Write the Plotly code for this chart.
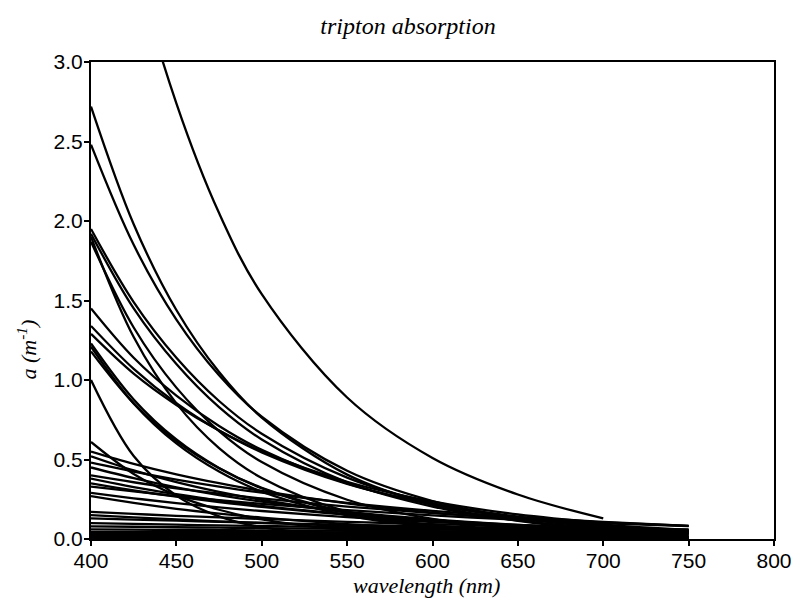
import plotly.graph_objects as go

wavelengths = [400, 425, 450, 475, 500, 550, 600, 650, 700, 750]

# absorption a (m^-1) read at the wavelengths above (None = curve ended)
top_curve = [[4.87, 3.65, 2.74, 2.05, 1.54, 0.89, 0.51, 0.28, 0.13, None]]

group_a = [
    [2.72, 1.98, 1.44, 1.05, 0.764, 0.405, 0.215, 0.114, 0.060, 0.032],
    [2.48, 1.85, 1.38, 1.03, 0.769, 0.429, 0.239, 0.133, 0.074, 0.041],
]

group_b = [
    [1.95, 1.49, 1.14, 0.868, 0.662, 0.386, 0.225, 0.131, 0.076, 0.044],
    [1.92, 1.45, 1.10, 0.829, 0.626, 0.357, 0.204, 0.117, 0.067, 0.038],
    [1.87, 1.33, 0.952, 0.679, 0.484, 0.247, 0.126, 0.064, 0.033, 0.017],
    [1.90, 1.27, 0.853, 0.572, 0.384, 0.172, 0.078, 0.035, 0.016, 0.007],
]

group_c = [
    [1.45, 1.14, 0.902, 0.711, 0.561, 0.349, 0.217, 0.135, 0.084, 0.052],
    [1.34, 1.07, 0.854, 0.682, 0.545, 0.347, 0.221, 0.141, 0.090, 0.057],
    [1.29, 1.04, 0.843, 0.682, 0.551, 0.360, 0.236, 0.154, 0.101, None],
]

group_d = [
    [1.23, 0.878, 0.626, 0.447, 0.319, 0.162, 0.083, 0.042, 0.021, 0.011],
    [1.21, 0.853, 0.601, 0.424, 0.298, 0.148, 0.074, 0.037, 0.018, 0.009],
    [1.18, 0.853, 0.616, 0.445, 0.322, 0.168, 0.088, 0.046, 0.024, 0.0125],
    [1.00, 0.522, 0.273, 0.142, 0.074, 0.020, 0.006, 0.002, 0.001, 0.0],
]

group_low = [
    [0.61, 0.409, 0.274, 0.184, 0.123, 0.055, 0.025, 0.011, 0.005, 0.002],
    [0.55, 0.473, 0.407, 0.351, 0.302, 0.224, 0.166, 0.123, 0.091, None],
    [0.52, 0.431, 0.357, 0.296, 0.246, 0.169, 0.116, 0.080, 0.055, 0.038],
    [0.48, 0.424, 0.374, 0.330, 0.291, 0.227, 0.177, 0.138, 0.107, 0.083],
    [0.45, 0.383, 0.325, 0.276, 0.235, 0.170, 0.123, 0.089, 0.064, 0.046],
    [0.40, 0.357, 0.319, 0.285, 0.255, 0.204, 0.163, 0.130, 0.104, 0.083],
    [0.38, 0.327, 0.282, 0.242, 0.209, 0.155, 0.114, 0.085, 0.063, 0.047],
    [0.35, 0.305, 0.266, 0.232, 0.202, 0.153, 0.117, 0.088, 0.067, 0.051],
    [0.33, 0.299, 0.270, 0.244, 0.221, 0.181, 0.148, 0.121, 0.099, 0.081],
    [0.29, 0.256, 0.226, 0.199, 0.176, 0.137, 0.107, 0.083, 0.065, 0.050],
    [0.27, 0.227, 0.190, 0.160, 0.134, 0.094, 0.067, 0.047, 0.033, None],
]

group_base = [
    [0.17, 0.158, 0.146, 0.136, 0.126, 0.108, 0.093, 0.080, 0.069, 0.060],
    [0.15, 0.136, 0.123, 0.111, 0.101, 0.082, 0.067, 0.055, 0.045, 0.037],
    [0.13, 0.122, 0.115, 0.108, 0.101, 0.089, 0.079, 0.070, 0.061, 0.054],
    [0.10, 0.095, 0.090, 0.086, 0.082, 0.074, 0.067, 0.061, 0.055, 0.050],
    [0.08, 0.077, 0.074, 0.071, 0.069, 0.064, 0.059, 0.055, 0.051, 0.047],
    [0.06, 0.059, 0.057, 0.056, 0.054, 0.052, 0.049, 0.047, 0.044, 0.042],
    [0.045, 0.045, 0.044, 0.043, 0.043, 0.042, 0.041, 0.040, 0.039, 0.038],
    [0.035, 0.035, 0.035, 0.035, 0.034, 0.034, 0.034, 0.034, 0.033, 0.033],
    [0.026, 0.026, 0.025, 0.025, 0.025, 0.025, 0.024, 0.024, 0.024, 0.024],
    [0.016, 0.016, 0.016, 0.016, 0.016, 0.016, 0.016, 0.016, 0.016, 0.016],
    [0.008, 0.008, 0.008, 0.008, 0.008, 0.008, 0.008, 0.008, 0.008, 0.008],
    [0.002, 0.002, 0.002, 0.002, 0.002, 0.002, 0.002, 0.002, 0.002, 0.002],
]

x_ticks = [400, 450, 500, 550, 600, 650, 700, 750, 800]
y_ticks = [0.0, 0.5, 1.0, 1.5, 2.0, 2.5, 3.0]

title_text = "tripton absorption"
x_title = "wavelength (nm)"
y_title = "a (m<sup>-1</sup>)"

all_spectra = top_curve + group_a + group_b + group_c + group_d + group_low + group_base

fig = go.Figure()
for spec in all_spectra:
    fig.add_trace(go.Scatter(
        x=wavelengths, y=spec, mode="lines",
        line=dict(color="black", width=2.3, shape="spline", smoothing=1.0),
        showlegend=False, hoverinfo="skip",
    ))

serif = "Liberation Serif, Times New Roman, serif"
sans = "Liberation Sans, Arial, Helvetica, sans-serif"

fig.update_layout(
    width=804, height=598,
    margin=dict(l=91, r=24, t=62, b=59),
    paper_bgcolor="white", plot_bgcolor="white",
    title=dict(text=title_text, x=408 / 804, xref="container", xanchor="center",
               y=1 - 26 / 598, yref="container", yanchor="middle",
               font=dict(family=serif, size=24, color="black", style="italic")),
)
fig.update_xaxes(
    range=[400, 800], tickvals=x_ticks, ticktext=[str(v) for v in x_ticks],
    showline=True, linecolor="black", linewidth=2, mirror=True,
    ticks="outside", ticklen=5, tickwidth=2, tickcolor="black",
    ticklabelstandoff=-3,
    showgrid=False, zeroline=False,
    tickfont=dict(family=sans, size=21, color="black"),
)
fig.update_yaxes(
    range=[0, 3], tickvals=y_ticks, ticktext=[f"{v:.1f}" for v in y_ticks],
    showline=True, linecolor="black", linewidth=2, mirror=True,
    ticks="outside", ticklen=5, tickwidth=2, tickcolor="black",
    ticklabelstandoff=-3,
    showgrid=False, zeroline=False,
    tickfont=dict(family=sans, size=21, color="black"),
)
fig.add_annotation(
    text=x_title, xref="paper", yref="paper",
    x=(429 - 91) / 689, y=(539 - 585) / 477, xanchor="center", yanchor="middle",
    showarrow=False, font=dict(family=serif, size=22, color="black", style="italic"),
)
fig.add_annotation(
    text=y_title, xref="paper", yref="paper",
    x=(26 - 91) / 689, y=(539 - 350) / 477, xanchor="center", yanchor="middle",
    textangle=-90, showarrow=False,
    font=dict(family=serif, size=22, color="black", style="italic"),
)

fig.write_html("out.html")
